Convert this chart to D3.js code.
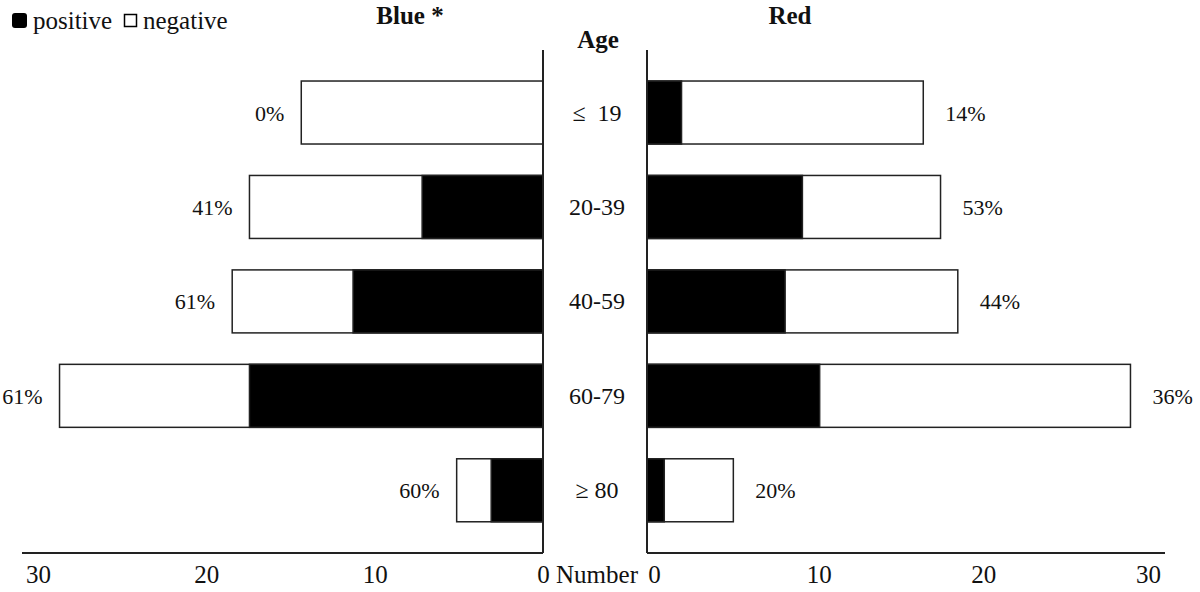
<!DOCTYPE html>
<meta charset="utf-8">
<script src="https://d3js.org/d3.v7.min.js"></script>
<style>
  body { margin: 0; background: #fff; }
  text { font-family: "Liberation Serif", "Times New Roman", serif; fill: #111; }
</style>
<div id="chart"></div>
<script>
// data
const ages = ["≤  19", "20-39", "40-59", "60-79", "≥ 80"];
const bluePositive = [0, 7, 11, 17, 3];
const blueTotal = [14, 17, 18, 28, 5];
const bluePct = ["0%", "41%", "61%", "61%", "60%"];
const redPositive = [2, 9, 8, 10, 1];
const redTotal = [16, 17, 18, 28, 5];
const redPct = ["14%", "53%", "44%", "36%", "20%"];
const tickValues = [0, 10, 20, 30];

const width = 1200, height = 592;
const lineColor = "#222";

const svg = d3.select("#chart").append("svg")
    .attr("width", width)
    .attr("height", height);

// scales
const xL = d3.scaleLinear().domain([0, 30]).range([543, 25]);
const xR = d3.scaleLinear().domain([0, 30]).range([647, 1165]);
// tick labels sit a little inside the bar scale in the original
const xLlab = d3.scaleLinear().domain([0, 30]).range([543, 38]);
const xRlab = d3.scaleLinear().domain([0, 30]).range([654, 1148]);
const y = d3.scaleBand().domain(ages).range([65.3, 537.5])
    .paddingInner(0.333).paddingOuter(0.1665);

const axisY = 553, axisTop = 50;

function drawSide(x, pos, total, pct, side) {
  const g = svg.append("g");
  const rows = ages.map((a, i) => ({age: a, pos: pos[i], total: total[i], pct: pct[i]}));

  // whole bar (negative part shows as white)
  g.selectAll("rect.tot").data(rows).enter().append("rect")
      .attr("class", "tot")
      .attr("x", d => Math.min(x(0), x(d.total)))
      .attr("width", d => Math.abs(x(d.total) - x(0)))
      .attr("y", d => y(d.age))
      .attr("height", y.bandwidth())
      .style("fill", "#fff")
      .style("stroke", lineColor)
      .style("stroke-width", 1.5);

  // positive part
  g.selectAll("rect.pos").data(rows.filter(d => d.pos > 0)).enter().append("rect")
      .attr("class", "pos")
      .attr("x", d => Math.min(x(0), x(d.pos)))
      .attr("width", d => Math.abs(x(d.pos) - x(0)))
      .attr("y", d => y(d.age))
      .attr("height", y.bandwidth())
      .style("fill", "#000")
      .style("stroke", lineColor)
      .style("stroke-width", 1.5);

  // percentage labels
  g.selectAll("text.pct").data(rows).enter().append("text")
      .attr("class", "pct")
      .attr("x", d => side === "left" ? x(d.total) - 17 : x(d.total) + 22)
      .attr("y", d => y(d.age) + y.bandwidth() / 2 + 8)
      .attr("text-anchor", side === "left" ? "end" : "start")
      .style("font-size", "22px")
      .text(d => d.pct);

  // axis lines
  g.append("line")
      .attr("x1", x(0)).attr("x2", x(0))
      .attr("y1", axisTop).attr("y2", axisY)
      .style("stroke", lineColor).style("stroke-width", 2);
  g.append("line")
      .attr("x1", x(0)).attr("x2", side === "left" ? x(30) - 3 : x(30))
      .attr("y1", axisY).attr("y2", axisY)
      .style("stroke", lineColor).style("stroke-width", 2);
}

drawSide(xL, bluePositive, blueTotal, bluePct, "left");
drawSide(xR, redPositive, redTotal, redPct, "right");

// tick labels via d3 axes
[xLlab, xRlab].forEach(s => {
  const ax = svg.append("g")
      .attr("transform", "translate(0," + 562 + ")")
      .call(d3.axisBottom(s).tickValues(tickValues).tickSize(0).tickFormat(d3.format("d")));
  ax.select(".domain").remove();
  ax.selectAll("text")
      .attr("y", 21).attr("dy", 0)
      .style("font-size", "25px")
      .style("font-family", "Liberation Serif")
      .style("fill", "#111");
});

svg.append("text")
    .attr("x", 597).attr("y", 583)
    .attr("text-anchor", "middle")
    .style("font-size", "25px")
    .text("Number");

// age labels
svg.append("g").selectAll("text").data(ages).enter().append("text")
    .attr("x", 597)
    .attr("y", d => y(d) + y.bandwidth() / 2 + 8)
    .attr("text-anchor", "middle")
    .style("font-size", "24px")
    .style("white-space", "pre")
    .text(d => d);

svg.append("text")
    .attr("x", 598).attr("y", 48)
    .attr("text-anchor", "middle")
    .style("font-size", "25px").style("font-weight", "bold")
    .text("Age");

// panel titles
svg.append("text")
    .attr("x", 410).attr("y", 24)
    .attr("text-anchor", "middle")
    .style("font-size", "25px").style("font-weight", "bold")
    .text("Blue *");
svg.append("text")
    .attr("x", 790).attr("y", 24)
    .attr("text-anchor", "middle")
    .style("font-size", "25px").style("font-weight", "bold")
    .text("Red");

// legend
const legend = svg.append("g");
legend.append("rect")
    .attr("x", 12).attr("y", 13).attr("width", 15).attr("height", 15)
    .attr("rx", 3)
    .style("fill", "#000");
legend.append("text")
    .attr("x", 33).attr("y", 29)
    .style("font-size", "25px")
    .text("positive");
legend.append("rect")
    .attr("x", 124.5).attr("y", 14.5).attr("width", 12).attr("height", 12)
    .style("fill", "#fff").style("stroke", "#000").style("stroke-width", 1.5);
legend.append("text")
    .attr("x", 143).attr("y", 29)
    .style("font-size", "25px")
    .text("negative");
</script>
